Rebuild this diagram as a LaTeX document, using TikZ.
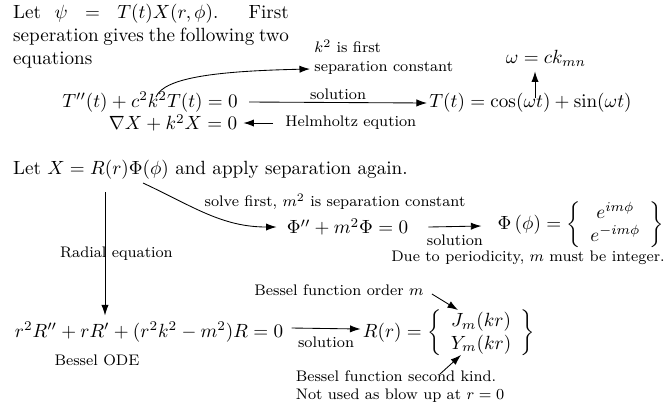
\documentclass[tikz,border=0pt]{standalone}
\usepackage{amsmath}
\usetikzlibrary{arrows.meta,calc}
\begin{document}
\begin{tikzpicture}[x=0.523pt,y=-0.523pt,
  lbl/.style={font=\footnotesize,inner sep=0pt},
  eqn/.style={inner sep=0pt},
  arr/.style={-{Latex[length=5.5pt,width=3.8pt]},line width=0.45pt}]
\useasboundingbox[fill=white] (0,0) rectangle (666,409);
% top paragraph
\node[anchor=north west,inner sep=0pt,text width=144.2pt,align=justify] (para) at (12.7,4)
  {\hyphenpenalty=10000 Let $\psi = T(t)X(r,\phi)$. First\linebreak seperation gives the following two\linebreak equations};
\node[lbl,anchor=west,align=left] (kconst) at (314,57) {$k^2$ is first\\separation constant};
\node[eqn] (eqT) at (150,102) {$T''(t) + c^2k^2T(t) = 0$};
\node[eqn] (solT) at (530.5,103) {$T(t) = \cos(\omega t) + \sin(\omega t)$};
\node[eqn] (omega) at (546,58) {$\omega = ck_{mn}$};
\node[eqn] (nabla) at (173,123) {$\nabla X + k^2 X = 0$};
\node[lbl,anchor=west] (helm) at (285,123) {Helmholtz eqution};
\coordinate (kstart) at (156,97);
\coordinate (kend) at ($(kconst.west)+(-4,12)$);
\coordinate (omstart) at (535,98);
\draw[arr] (kstart) .. controls ($(kstart)+(8,-20)$) and ($(kend)+(-90,2)$) .. (kend);
\draw[arr] ($(eqT.east)+(11,0)$) -- node[lbl,above=1.5pt] {solution} ($(solT.west)+(-2,0)$);
\draw[arr] (omstart) -- ($(omstart |- omega.south)+(0,5)$);
\draw[arr] ($(helm.west)+(-12,0)$) -- ($(nabla.east)+(6,0)$);
% second part
\node[anchor=west,inner sep=0pt] (letX) at (12.7,170) {Let $X = R(r)\Phi(\phi)$ and apply separation again.};
\coordinate (phistart) at (143,183);
\node[eqn] (phieq) at (347.5,227) {$\Phi'' + m^2\Phi = 0$};
\node[lbl] (solve) at (335,202) {solve first, $m^2$ is separation constant};
\draw[arr] (phistart) to[out=-25,in=180] ($(phieq.west)+(-10,0)$);
\node[eqn] (phisol) at (581,225) {$\Phi\left(\phi\right) = \left\{\begin{array}{c} e^{im\phi}\\ e^{-im\phi}\end{array}\right\}$};
\draw[arr] ($(phieq.east)+(20,0)$) -- node[lbl,below=4pt] {solution} ($(phisol.west)+(-16,1)$);
\node[lbl,anchor=east] (period) at (665,258) {Due to periodicity, $m$ must be integer.};
\node[eqn] (bessel) at (149,332) {$r^2R'' + rR' + (r^2k^2 - m^2)R = 0$};
\coordinate (radtop) at (105,192);
\draw[arr] (radtop) -- node[lbl,xshift=6] {Radial equation} ($(radtop |- bessel.north)+(0,-6)$);
\node[lbl] (bode) at (97,360) {Bessel ODE};
\node[eqn] (Rsol) at (449,333) {$R(r) = \left\{\begin{array}{c} J_m(kr)\\ Y_m(kr)\end{array}\right\}$};
\draw[arr] ($(bessel.east)+(8,-4)$) -- node[lbl,below=4pt] {solution} ($(Rsol.west)+(-2,-4)$);
\node[lbl] (order) at (339,290) {Bessel function order $m$};
\coordinate (Jm) at (458,310);
\draw[arr] ($(order.east)+(8,4)$) -- (Jm);
\node[lbl,align=left] (second) at (400,387) {Bessel function second kind.\\Not used as blow up at $r = 0$};
\coordinate (Ym) at (461,355);
\coordinate (secstart) at (440,374);
\draw[arr] (secstart) -- (Ym);
\end{tikzpicture}
\end{document}
